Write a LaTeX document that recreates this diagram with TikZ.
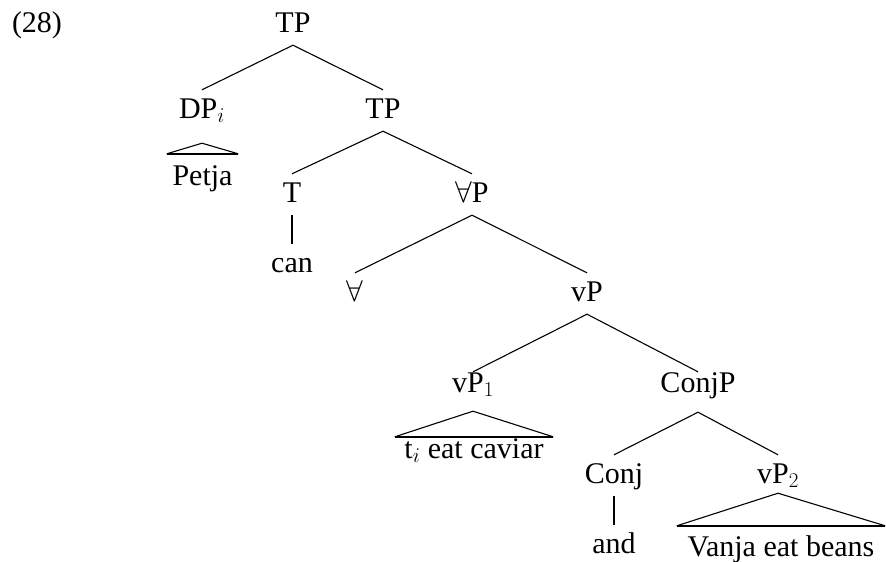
\RequirePackage{fix-cm}
\documentclass[tikz,border=0pt]{standalone}
\usepackage{fontspec}
\setmainfont{Liberation Serif}
\begin{document}
\begin{tikzpicture}[x=1pt,y=-1pt,
  lbl/.style={anchor=base, inner sep=0pt, text height=28pt, text depth=13pt, font=\fontsize{30}{36}\selectfont},
  edge/.style={line width=1.1pt},
  bar/.style={line width=2.6pt},
  tribase/.style={line width=2.2pt}]
\useasboundingbox (0,0) rectangle (886,562);
\node[lbl] (ex) at (37,32) {(28)};
\node[lbl] (tp) at (293,32) {TP};
\node[lbl, text depth=25pt] (dp) at (202,118) {DP$_i$};
\node[lbl] (tp2) at (383,118) {TP};
\node[lbl, text height=31pt, minimum width=71pt] (petja) at (202.5,185) {Petja};
\node[lbl] (t) at (292,202) {T};
\node[lbl] (ap) at (472,202) {$\forall$P};
\node[lbl] (can) at (292,272) {can};
\node[lbl] (fa) at (355,301) {$\forall$};
\node[lbl] (vp) at (587,301) {vP};
\node[lbl, text height=20pt, text depth=19pt] (vp1) at (473,392) {vP$_1$};
\node[lbl, text height=20pt, text depth=20pt] (conjp) at (698,392) {ConjP};
\node[lbl, text height=21pt, minimum width=158pt] (caviar) at (474,458) {t$_i$ eat caviar};
\node[lbl] (conj) at (614,483) {Conj};
\node[lbl, text depth=10pt] (vp2) at (778,483) {vP$_2$};
\node[lbl] (and) at (614,553) {and};
\node[lbl, text height=30pt, minimum width=208pt] (beans) at (781,556) {Vanja eat beans};

\draw[edge] (tp.south) -- (dp.north);
\draw[edge] (tp.south) -- (tp2.north);
\draw[edge] (tp2.south) -- (t.north);
\draw[edge] (tp2.south) -- (ap.north);
\draw[bar] (t.south) -- (can.north);
\draw[edge] (ap.south) -- (fa.north);
\draw[edge] (ap.south) -- (vp.north);
\draw[edge] (vp.south) -- (vp1.north);
\draw[edge] (vp.south) -- (conjp.north);
\draw[edge] (conjp.south) -- (conj.north);
\draw[edge] (conjp.south) -- (vp2.north);
\draw[bar] (conj.south) -- (and.north);

\draw[edge] (petja.north west) -- (dp.south) -- (petja.north east);
\draw[tribase] (petja.north west) -- (petja.north east);
\draw[edge] (caviar.north west) -- (vp1.south) -- (caviar.north east);
\draw[tribase] (caviar.north west) -- (caviar.north east);
\draw[edge] (beans.north west) -- (vp2.south) -- (beans.north east);
\draw[tribase] (beans.north west) -- (beans.north east);
\end{tikzpicture}
\end{document}
